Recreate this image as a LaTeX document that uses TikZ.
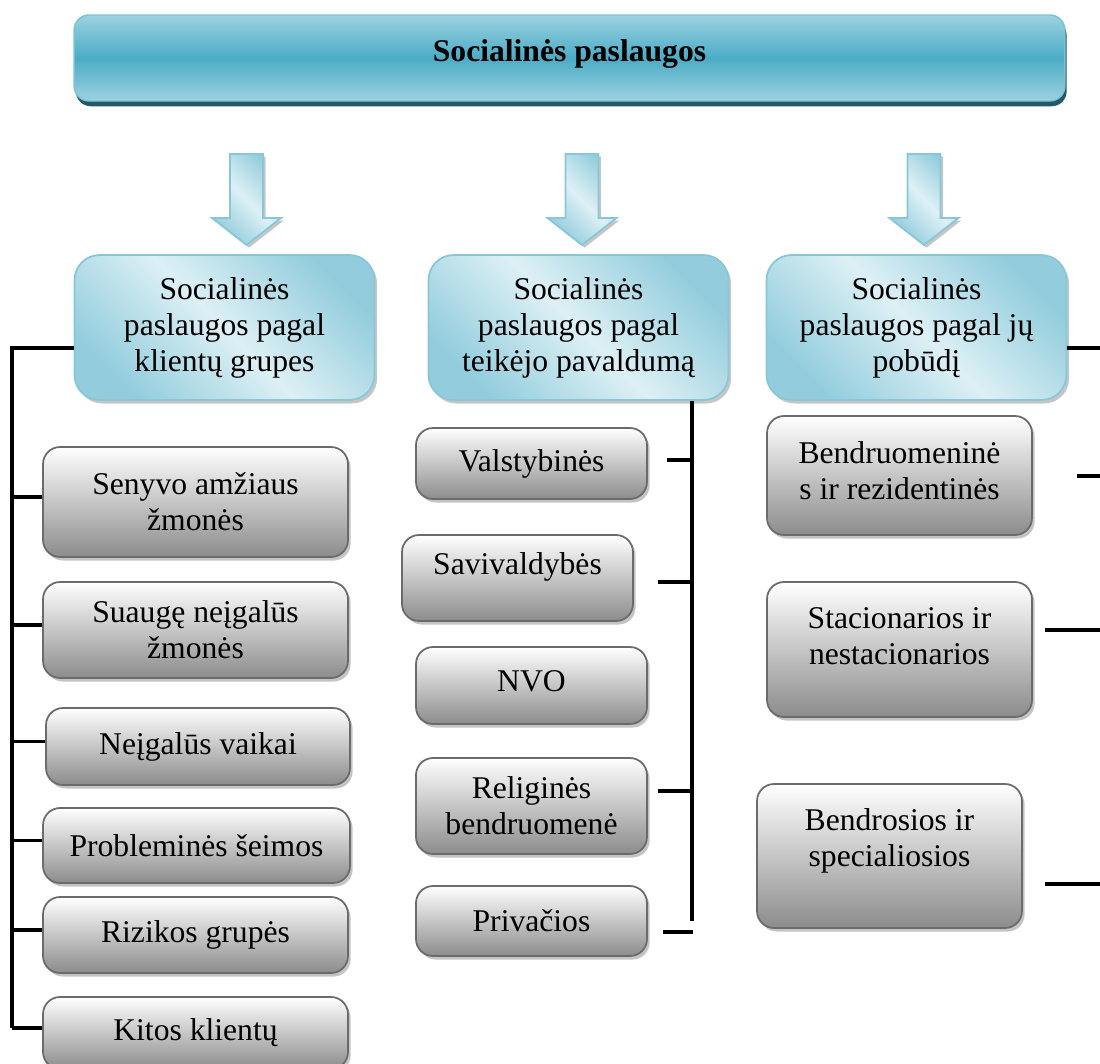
\documentclass[tikz,border=0pt]{standalone}
\usepackage{fontspec}
\setmainfont{Liberation Serif}
\usepackage{tikz}
\usetikzlibrary{shadows}
\definecolor{titleMid}{HTML}{4BACC6}
\definecolor{titleEdge}{HTML}{9CD2E0}
\definecolor{titleShade}{HTML}{23596A}
\definecolor{titleLine}{HTML}{7CC2D5}
\definecolor{headLight}{HTML}{DDF0F5}
\definecolor{headDark}{HTML}{93CDDD}
\definecolor{headLine}{HTML}{88C7D8}
\definecolor{greyLow}{HTML}{8C8C8C}
\definecolor{greyLine}{HTML}{6B6B6B}
\definecolor{greyShade}{HTML}{C4C4C4}

\tikzset{
    titlebox/.style={draw=titleLine, line width=0.8pt, rounded corners=0.3cm,
        top color=titleEdge, bottom color=titleEdge, middle color=titleMid,
        minimum width=19.82cm, minimum height=1.72cm, text depth=9pt,
        font=\fontsize{18}{20.5}\selectfont\bfseries,
        drop shadow={shadow xshift=1pt, shadow yshift=-3pt, fill=titleShade, opacity=1}},
    headbox/.style={draw=headLine, line width=1pt, rounded corners=0.5cm,
        top color=headDark, bottom color=headDark, middle color=headLight, shading angle=-45,
        minimum width=6cm, minimum height=2.9cm, align=center,
        font=\fontsize{18}{20.5}\selectfont,
        drop shadow={shadow xshift=1.5pt, shadow yshift=-2pt, fill=gray!45, opacity=1}},
    greybox/.style={draw=greyLine, line width=1pt, rounded corners=0.34cm,
        top color=white, bottom color=greyLow, align=center,
        font=\fontsize{18}{20.5}\selectfont,
        drop shadow={shadow xshift=1.5pt, shadow yshift=-2pt, fill=greyShade, opacity=1}},
    arrowblock/.style={draw=headLine, line width=1pt,
        top color=headDark, bottom color=headDark, middle color=headLight, shading angle=-45,
        drop shadow={shadow xshift=1.5pt, shadow yshift=-1.5pt, fill=gray!45, opacity=1}},
    link/.style={draw=black, line width=1.8pt}
}

\begin{document}
\begin{tikzpicture}[x=0.02cm, y=-0.02cm]
    % canvas
    \useasboundingbox (0,0) rectangle (1100,1063);

    % title
    \node[titlebox] (title) at (569.5,58) {Socialinės paslaugos};

    % block arrows
    \foreach \cx in {246.5,582,924}
    \draw[arrowblock] (\cx-16.5,154) -- (\cx+16.5,154) -- (\cx+16.5,218) -- (\cx+34.5,218)
        -- (\cx,245) -- (\cx-34.5,218) -- (\cx-16.5,218) -- cycle;

    % group headers
    \node[headbox] (clients) at (224.5,327.5) {Socialinės\\paslaugos pagal\\klientų grupes};
    \node[headbox] (provider) at (578.5,327.5) {Socialinės\\paslaugos pagal\\teikėjo pavaldumą};
    \node[headbox] (nature) at (916.5,327.5) {Socialinės\\paslaugos pagal jų\\pobūdį};

    % client groups
    \node[greybox, minimum width=6.1cm, minimum height=2.2cm] (sen) at (195.5,502) {Senyvo amžiaus\\žmonės};
    \node[greybox, minimum width=6.1cm, minimum height=1.92cm] (sua) at (195.5,630) {Suaugę neįgalūs\\žmonės};
    \node[greybox, minimum width=6.08cm, minimum height=1.54cm] (vai) at (198,746.5) {Neįgalūs vaikai};
    \node[greybox, minimum width=6.14cm, minimum height=1.5cm] (pro) at (196.5,845.5) {Probleminės šeimos};
    \node[greybox, minimum width=6.1cm, minimum height=1.52cm] (riz) at (195.5,935) {Rizikos grupės};
    \node[greybox, minimum width=6.1cm, minimum height=1.44cm] (kit) at (195.5,1033) {Kitos klientų};

    % providers
    \node[greybox, minimum width=4.62cm, minimum height=1.42cm] (val) at (531.5,463.5) {Valstybinės};
    \node[greybox, minimum width=4.62cm, minimum height=1.72cm, text depth=16pt] (sav) at (517.5,578) {Savivaldybės};
    \node[greybox, minimum width=4.62cm, minimum height=1.54cm, text depth=5.6pt] (nvo) at (531.5,685.5) {NVO};
    \node[greybox, minimum width=4.62cm, minimum height=1.92cm] (rel) at (531.5,806) {Religinės\\bendruomenė};
    \node[greybox, minimum width=4.62cm, minimum height=1.4cm] (pri) at (531.5,921) {Privačios};

    % kinds
    \node[greybox, minimum width=5.3cm, minimum height=2.38cm, text depth=6.2pt] (ben) at (899.5,475.5) {Bendruomeninė\\s ir rezidentinės};
    \node[greybox, minimum width=5.3cm, minimum height=2.7cm, text depth=15.8pt] (sta) at (899.5,649.5) {Stacionarios ir\\nestacionarios};
    \node[greybox, minimum width=5.3cm, minimum height=2.88cm, text depth=21pt] (bdr) at (889.5,856) {Bendrosios ir\\specialiosios};

    % left bracket
    \coordinate (lbus) at (12,1028);
    \draw[link] ([yshift=-0.41cm]clients.west) -| (lbus);
    \foreach \b in {sen,sua,vai,pro,riz,kit}
    \draw[link] ([yshift=0.1cm]\b.west) -- ([yshift=0.1cm]\b.west -| lbus);

    % middle bracket
    \coordinate (mbus) at (692,921);
    \draw[link] (provider.south -| mbus) -- (mbus);
    \foreach \y/\x in {460/667,582/658,791/658}
    \draw[link] (\x,\y) -- (mbus |- \x,\y);
    \draw[link] (663,932) -- (693,932);

    % right lines
    \coordinate (redge) at (1100,0);
    \draw[link] ([yshift=-0.41cm]nature.east) -- ([yshift=-0.41cm]nature.east -| redge);
    \foreach \y/\x in {476/1077,630/1045,884/1045}
    \draw[link] (\x,\y) -- (redge |- \x,\y);
\end{tikzpicture}
\end{document}
